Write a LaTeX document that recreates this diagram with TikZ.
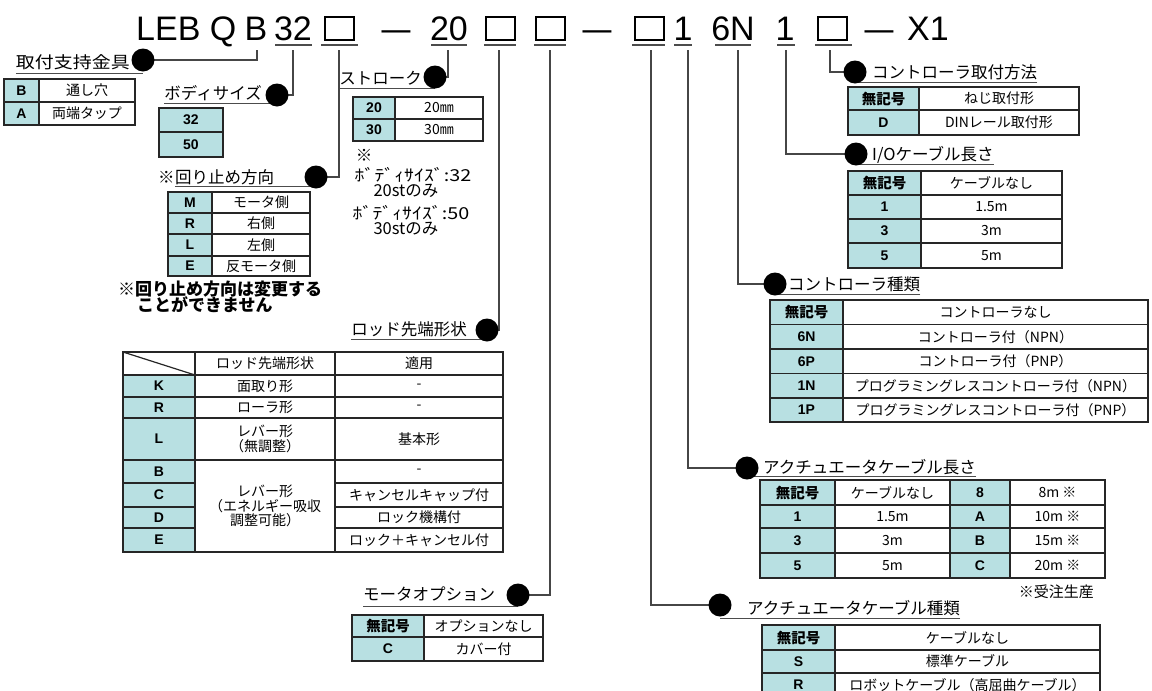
\documentclass[tikz,border=0pt]{standalone}
\usepackage{fontspec}
\setmainfont{Noto Sans CJK JP}
\newfontfamily\arialf{Liberation Sans}
\definecolor{codefill}{RGB}{184,224,226}
\definecolor{lnc}{RGB}{70,70,70}
\tikzset{
 ttl/.style={font=\arialf\fontsize{34}{34}\selectfont, inner sep=0pt},
 sqbox/.style={draw=black, line width=2pt, minimum width=29pt, minimum height=23pt, inner sep=0pt},
 tul/.style={draw=black!70, line width=1.5pt},
 conn/.style={draw=lnc, line width=1.3pt},
 bdot/.style={circle, fill=black, minimum size=23pt, inner sep=0pt},
 lbl/.style={font=\fontsize{16.5}{17}\selectfont, inner sep=0pt},
 uline/.style={draw=black!70, line width=1pt},
 cbase/.style={draw=black!85, line width=1.2pt, inner sep=0pt, outer sep=0pt, align=center},
 code/.style={cbase, fill=codefill, font=\arialf\bfseries\fontsize{14}{15}\selectfont},
 codej/.style={cbase, fill=codefill, font=\bfseries\fontsize{14.5}{15}\selectfont},
 desc/.style={cbase, fill=white, font=\fontsize{14}{14.5}\selectfont},
 note/.style={font=\fontsize{16.5}{17}\selectfont, inner sep=0pt},
 bnote/.style={font=\bfseries\fontsize{17}{18}\selectfont, inner sep=0pt},
}
\newcommand\tcell[7]{\node[#1, minimum width={(#5)-(#3)}, minimum height={(#6)-(#4)}] (#2) at ({((#3)+(#5))/2},{((#4)+(#6))/2}) {#7};}
\newcommand\tdash{\scalebox{0.85}[1]{—}}
\begin{document}
\begin{tikzpicture}[x=1pt,y=-1pt]
\useasboundingbox (0,0) rectangle (1152,691);
\clip (0,0) rectangle (1152,691);
\fill[white] (0,0) rectangle (1152,691);

% ---------- title ----------
\node[ttl, anchor=base west] (tLEB) at (136,40) {LEB};
\node[ttl, anchor=base] (tQ) at (223,40) {Q};
\node[ttl, anchor=base] (tB) at (256,40) {B};
\node[ttl, anchor=base] (t32) at (293,40) {32};
\node[sqbox] (sq1) at (339,28.5) {};
\node[ttl, anchor=base] (d1) at (396,40) {\tdash};
\node[ttl, anchor=base] (t20) at (449,40) {20};
\node[sqbox] (sq2) at (500,28.5) {};
\node[sqbox] (sq3) at (550,28.5) {};
\node[ttl, anchor=base] (d2) at (597,40) {\tdash};
\node[sqbox] (sq4) at (649,28.5) {};
\node[ttl, anchor=base] (t1a) at (683,40) {1};
\node[ttl, anchor=base] (t6N) at (733,40) {6N};
\node[ttl, anchor=base] (t1b) at (785,40) {1};
\node[sqbox] (sq5) at (832,28.5) {};
\node[ttl, anchor=base] (d3) at (879,40) {\tdash};
\node[ttl, anchor=base] (tX1) at (928,40) {X1};

\draw[tul] (275,45) -- (312,45);
\draw[tul] (321,45) -- (358,45);
\draw[tul] (431,45) -- (467,45);
\draw[tul] (484,45) -- (516,45);
\draw[tul] (534,45) -- (566,45);
\draw[tul] (632,45) -- (665,45);
\draw[tul] (674,45) -- (692,45);
\draw[tul] (715,45) -- (751,45);
\draw[tul] (777,45) -- (795,45);
\draw[tul] (815,45) -- (852,45);

% connector start points
\coordinate (cB) at (257,50);
\coordinate (c32) at (293,50);
\coordinate (cS1) at (339,50);
\coordinate (c20) at (448,50);
\coordinate (cS2) at (499,50);
\coordinate (cS3) at (550,50);
\coordinate (cS4) at (651,50);
\coordinate (c1a) at (688,50);
\coordinate (c6N) at (738,50);
\coordinate (c1b) at (786,50);
\coordinate (cS5) at (830,50);

% dot positions
\coordinate (p1) at (143,60);
\coordinate (p2) at (277,95);
\coordinate (p3) at (316,177);
\coordinate (p4) at (435,77);
\coordinate (p5) at (487,330);
\coordinate (p6) at (518,595);
\coordinate (p7) at (720,605);
\coordinate (p8) at (747,468);
\coordinate (p9) at (775,284);
\coordinate (p10) at (856,154);
\coordinate (p11) at (855,72);

% ---------- tables ----------
% mounting bracket
\tcell{code}{a1}{4}{79}{39}{102}{B}
\tcell{desc}{a1d}{39}{79}{135}{102}{通し穴}
\tcell{code}{a2}{4}{102}{39}{125}{A}
\tcell{desc}{a2d}{39}{102}{135}{125}{両端タップ}
% body size
\tcell{code}{b1}{159}{108}{223}{132}{32}
\tcell{code}{b2}{159}{132}{223}{157}{50}
% rotation
\tcell{code}{m1}{168}{192}{212}{213}{M}
\tcell{desc}{m1d}{212}{192}{310}{213}{モータ側}
\tcell{code}{m2}{168}{213}{212}{234}{R}
\tcell{desc}{m2d}{212}{213}{310}{234}{右側}
\tcell{code}{m3}{168}{234}{212}{256}{L}
\tcell{desc}{m3d}{212}{234}{310}{256}{左側}
\tcell{code}{m4}{168}{256}{212}{276}{E}
\tcell{desc}{m4d}{212}{256}{310}{276}{反モータ側}
\node[bnote, anchor=west] (n3a) at (118,289) {※回り止め方向は変更する};
\node[bnote, anchor=west] (n3b) at (137,305) {ことができません};
% stroke
\tcell{code}{s1}{353}{97}{395}{119}{20}
\tcell{desc}{s1d}{395}{97}{483}{119}{20㎜}
\tcell{code}{s2}{353}{119}{395}{141}{30}
\tcell{desc}{s2d}{395}{119}{483}{141}{30㎜}
\node[note] (sn1) at (364,155) {※};
\node[note] (sn2) at (413,175) {\scalebox{1.2}[1]{ﾎﾞﾃﾞｨｻｲｽﾞ:32}};
\node[note] (sn3) at (406,191) {20stのみ};
\node[note] (sn4) at (411,213) {\scalebox{1.2}[1]{ﾎﾞﾃﾞｨｻｲｽﾞ:50}};
\node[note] (sn5) at (406,229) {30stのみ};
% rod end
\tcell{desc}{rh0}{123}{352}{195}{375}{}
\draw[cbase] (rh0.north west) -- (rh0.south east);
\tcell{desc}{rh1}{195}{352}{335}{375}{ロッド先端形状}
\tcell{desc}{rh2}{335}{352}{503}{375}{適用}
\tcell{code}{rK}{123}{375}{195}{397}{K}
\tcell{desc}{rK1}{195}{375}{335}{397}{面取り形}
\tcell{desc}{rK2}{335}{375}{503}{397}{-}
\tcell{code}{rR}{123}{397}{195}{418}{R}
\tcell{desc}{rR1}{195}{397}{335}{418}{ローラ形}
\tcell{desc}{rR2}{335}{397}{503}{418}{-}
\tcell{code}{rL}{123}{418}{195}{460}{L}
\tcell{desc}{rL1}{195}{418}{335}{460}{レバー形\\（無調整）}
\tcell{desc}{rL2}{335}{418}{503}{460}{基本形}
\tcell{code}{rB}{123}{460}{195}{483}{B}
\tcell{code}{rC}{123}{483}{195}{507}{C}
\tcell{code}{rD}{123}{507}{195}{528}{D}
\tcell{code}{rE}{123}{528}{195}{552}{E}
\tcell{desc}{rM1}{195}{460}{335}{552}{レバー形\\（エネルギー吸収\\調整可能）}
\tcell{desc}{rB2}{335}{460}{503}{483}{-}
\tcell{desc}{rC2}{335}{483}{503}{507}{キャンセルキャップ付}
\tcell{desc}{rD2}{335}{507}{503}{528}{ロック機構付}
\tcell{desc}{rE2}{335}{528}{503}{552}{ロック＋キャンセル付}
% motor option
\tcell{codej}{o1}{352}{615}{424}{637}{無記号}
\tcell{desc}{o1d}{424}{615}{543}{637}{オプションなし}
\tcell{code}{o2}{352}{637}{424}{661}{C}
\tcell{desc}{o2d}{424}{637}{543}{661}{カバー付}
% actuator cable type
\tcell{codej}{k1}{762}{625}{835}{650}{無記号}
\tcell{desc}{k1d}{835}{625}{1100}{650}{ケーブルなし}
\tcell{code}{k2}{762}{650}{835}{673}{S}
\tcell{desc}{k2d}{835}{650}{1100}{673}{標準ケーブル}
\tcell{code}{k3}{762}{673}{835}{697}{R}
\tcell{desc}{k3d}{835}{673}{1100}{697}{ロボットケーブル（高屈曲ケーブル）}
% actuator cable length
\tcell{codej}{l1}{760}{480}{835}{505}{無記号}
\tcell{desc}{l1d}{835}{480}{950}{505}{ケーブルなし}
\tcell{code}{l1c}{950}{480}{1010}{505}{8}
\tcell{desc}{l1e}{1010}{480}{1105}{505}{8m ※}
\tcell{code}{l2}{760}{505}{835}{528}{1}
\tcell{desc}{l2d}{835}{505}{950}{528}{1.5m}
\tcell{code}{l2c}{950}{505}{1010}{528}{A}
\tcell{desc}{l2e}{1010}{505}{1105}{528}{10m ※}
\tcell{code}{l3}{760}{528}{835}{553}{3}
\tcell{desc}{l3d}{835}{528}{950}{553}{3m}
\tcell{code}{l3c}{950}{528}{1010}{553}{B}
\tcell{desc}{l3e}{1010}{528}{1105}{553}{15m ※}
\tcell{code}{l4}{760}{553}{835}{578}{5}
\tcell{desc}{l4d}{835}{553}{950}{578}{5m}
\tcell{code}{l4c}{950}{553}{1010}{578}{C}
\tcell{desc}{l4e}{1010}{553}{1105}{578}{20m ※}
\node[note, anchor=east, font=\fontsize{15}{16}\selectfont] (ln) at (1094,592) {※受注生産};
% controller type
\tcell{codej}{t1}{770}{300}{843}{324.5}{無記号}
\tcell{desc}{t1d}{843}{300}{1148}{324.5}{コントローラなし}
\tcell{code}{t2}{770}{324.5}{843}{349}{6N}
\tcell{desc}{t2d}{843}{324.5}{1148}{349}{コントローラ付（NPN）}
\tcell{code}{t3}{770}{349}{843}{373.5}{6P}
\tcell{desc}{t3d}{843}{349}{1148}{373.5}{コントローラ付（PNP）}
\tcell{code}{t4}{770}{373.5}{843}{398}{1N}
\tcell{desc}{t4d}{843}{373.5}{1148}{398}{プログラミングレスコントローラ付（NPN）}
\tcell{code}{t5}{770}{398}{843}{422}{1P}
\tcell{desc}{t5d}{843}{398}{1148}{422}{プログラミングレスコントローラ付（PNP）}
% I/O cable length
\tcell{codej}{i1}{848}{171}{921}{195}{無記号}
\tcell{desc}{i1d}{921}{171}{1062}{195}{ケーブルなし}
\tcell{code}{i2}{848}{195}{921}{219}{1}
\tcell{desc}{i2d}{921}{195}{1062}{219}{1.5m}
\tcell{code}{i3}{848}{219}{921}{243}{3}
\tcell{desc}{i3d}{921}{219}{1062}{243}{3m}
\tcell{code}{i4}{848}{243}{921}{268}{5}
\tcell{desc}{i4d}{921}{243}{1062}{268}{5m}
% controller mounting
\tcell{codej}{c1}{848}{87}{919}{110}{無記号}
\tcell{desc}{c1d}{919}{87}{1079}{110}{ねじ取付形}
\tcell{code}{c2}{848}{110}{919}{135}{D}
\tcell{desc}{c2d}{919}{110}{1079}{135}{DINレール取付形}

% ---------- labels ----------
\node[lbl, anchor=base east] (L1) at (130,68) {\scalebox{1.15}[1]{取付支持金具}};
\node[lbl, anchor=base east] (L2) at (262,99) {ボディサイズ};
\node[lbl, anchor=base west] (L3a) at (158,183) {※};
\node[lbl, anchor=base west] (L3) at (L3a.base east) {回り止め方向};
\node[lbl, anchor=base east] (L4) at (422,84) {ストローク};
\node[lbl, anchor=base east] (L5) at (467,335) {ロッド先端形状};
\node[lbl, anchor=base west] (L6) at (363,600) {モータオプション};
\node[lbl, anchor=base west] (L7) at (747,614) {アクチュエータケーブル種類};
\node[lbl, anchor=base west] (L8) at (763,473) {アクチュエータケーブル長さ};
\node[lbl, anchor=base west] (L9) at (788,290) {コントローラ種類};
\node[lbl, anchor=base west] (L10) at (872,160) {I/Oケーブル長さ};
\node[lbl, anchor=base west] (L11) at (872,78) {コントローラ取付方法};

\draw[uline] ([yshift=-5pt]L1.base west) -- ([yshift=-5pt]L1.base west -| p1);
\draw[uline] ([yshift=-4pt]L2.base west) -- ([yshift=-4pt]L2.base west -| p2);
\draw[uline] ([yshift=-3pt]L3.base west) -- ([yshift=-3pt]L3.base west -| p3);
\draw[uline] ([yshift=-4pt]L4.base west) -- ([yshift=-4pt]L4.base west -| p4);
\draw[uline] ([yshift=-4pt]L5.base west) -- ([yshift=-4pt]L5.base west -| p5);
\draw[uline] ([yshift=-6pt]L6.base west) -- ([yshift=-6pt]L6.base west -| p6);
\draw[uline] ([yshift=-4pt]L7.base east) -- ([yshift=-4pt]L7.base east -| p7);
\draw[uline] ([yshift=-3pt]L8.base east) -- ([yshift=-3pt]L8.base east -| p8);
\draw[uline] ([yshift=-4pt]L9.base east) -- ([yshift=-4pt]L9.base east -| p9);
\draw[uline] ([yshift=-4pt]L10.base east) -- ([yshift=-4pt]L10.base east -| p10);
\draw[uline] ([yshift=-4pt]L11.base east) -- ([yshift=-4pt]L11.base east -| p11);

% ---------- connectors ----------
\draw[conn] (cB) |- (p1);
\draw[conn] (c32) |- (p2);
\draw[conn] (cS1) |- (p3);
\draw[conn] (c20) |- (p4);
\draw[conn] (cS2) |- (p5);
\draw[conn] (cS3) |- (p6);
\draw[conn] (cS4) |- (p7);
\draw[conn] (c1a) |- (p8);
\draw[conn] (c6N) |- (p9);
\draw[conn] (c1b) |- (p10);
\draw[conn] (cS5) |- (p11);

% ---------- dots ----------
\node[bdot] (dot1) at (p1) {};
\node[bdot] (dot2) at (p2) {};
\node[bdot] (dot3) at (p3) {};
\node[bdot] (dot4) at (p4) {};
\node[bdot] (dot5) at (p5) {};
\node[bdot] (dot6) at (p6) {};
\node[bdot] (dot7) at (p7) {};
\node[bdot] (dot8) at (p8) {};
\node[bdot] (dot9) at (p9) {};
\node[bdot] (dot10) at (p10) {};
\node[bdot] (dot11) at (p11) {};
\end{tikzpicture}
\end{document}
